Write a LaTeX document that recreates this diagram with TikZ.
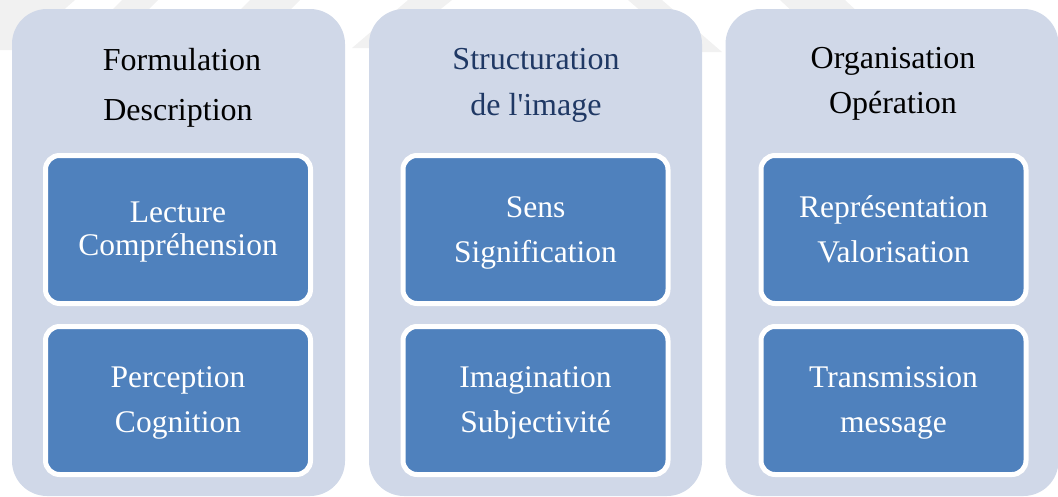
\documentclass[tikz,border=0pt]{standalone}
\usepackage{fontspec}
\newfontfamily\lsr{Liberation Serif}
\definecolor{outerfill}{HTML}{D0D8E8}
\definecolor{innerfill}{HTML}{4F81BD}
\definecolor{navy}{HTML}{1F3864}
\definecolor{wm}{HTML}{F1F1F1}
\begin{document}
\begin{tikzpicture}[x=1pt,y=-1pt,
  column/.style={draw=none, fill=outerfill, rounded corners=35pt, minimum width=333pt, minimum height=487pt, inner sep=0pt},
  cell/.style={draw=white, line width=5pt, fill=innerfill, rounded corners=14pt, minimum width=265pt, minimum height=148pt, inner sep=0pt},
  title/.style={anchor=base, font=\lsr\fontsize{32}{38}\selectfont, inner sep=0pt},
  celltext/.style={anchor=base, text=white, font=\lsr\fontsize{31.5}{36}\selectfont, inner sep=0pt},
  wmark/.style={fill=wm, draw=none}]
\useasboundingbox (0,0) rectangle (1058,496);
% faint watermark bands
\fill[wmark] (0,0) -- (75,0) -- (18,50) -- (0,50) -- cycle;
\fill[wmark] (122,0) -- (158,0) -- (146,12) -- (110,12) -- cycle;
\fill[wmark] (250,0) -- (300,0) -- (288,12) -- (238,12) -- cycle;
\fill[wmark] (352,48) -- (392,48) -- (452,0) -- (408,0) -- cycle;
\fill[wmark] (628,0) -- (662,0) -- (722,52) -- (688,52) -- cycle;
\fill[wmark] (780,0) -- (845,0) -- (860,14) -- (795,14) -- cycle;
% columns
\node[column] (c1) at (178.5,252.5) {};
\node[column] (c2) at (535.5,252.5) {};
\node[column] (c3) at (892,252.5) {};
% titles
\node[title] (t1a) at (182,70) {Formulation};
\node[title] (t1b) at (178,120) {Description};
\node[title, text=navy] (t2a) at (536,69) {Structuration};
\node[title, text=navy] (t2b) at (536,115) {de l'image};
\node[title] (t3a) at (893,68) {Organisation};
\node[title] (t3b) at (893,113) {Opération};
% cells
\node[cell] (b11) at (178,229.5) {};
\node[cell] (b12) at (178,400.5) {};
\node[cell] (b21) at (535.5,229.5) {};
\node[cell] (b22) at (535.5,400.5) {};
\node[cell] (b31) at (893.5,229.5) {};
\node[cell] (b32) at (893.5,400.5) {};
% cell texts
\node[celltext] (l11a) at ([yshift=7.5pt]b11.center) {Lecture};
\node[celltext] (l11b) at ([yshift=-25.5pt]b11.center) {Compréhension};
\node[celltext] (l12a) at ([yshift=13.5pt]b12.center) {Perception};
\node[celltext] (l12b) at ([yshift=-32pt]b12.center) {Cognition};
\node[celltext] (l21a) at ([yshift=12.5pt]b21.center) {Sens};
\node[celltext] (l21b) at ([yshift=-32.5pt]b21.center) {Signification};
\node[celltext] (l22a) at ([yshift=13.5pt]b22.center) {Imagination};
\node[celltext] (l22b) at ([yshift=-31.5pt]b22.center) {Subjectivité};
\node[celltext] (l31a) at ([yshift=12.5pt]b31.center) {Représentation};
\node[celltext] (l31b) at ([yshift=-32.5pt]b31.center) {Valorisation};
\node[celltext] (l32a) at ([yshift=13.5pt]b32.center) {Transmission};
\node[celltext] (l32b) at ([yshift=-31.5pt]b32.center) {message};
\end{tikzpicture}
\end{document}
